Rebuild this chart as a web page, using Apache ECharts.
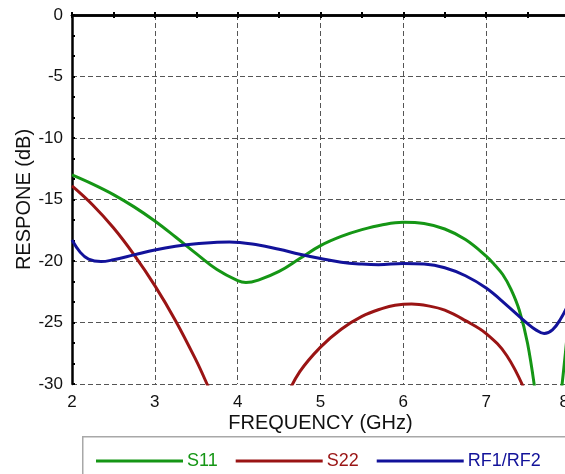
<!DOCTYPE html>
<html>
<head>
<meta charset="utf-8">
<script src="https://cdn.jsdelivr.net/npm/echarts@6/dist/echarts.min.js"></script>
<style>
html,body{margin:0;padding:0;background:#fff;}
#c{width:565px;height:474px;}
</style>
</head>
<body>
<div id="c"></div>
<script>
// Frequency (GHz) and response (dB)
const freqS11 = [2.0,2.25,2.5,2.75,3.0,3.25,3.5,3.75,4.0,4.1,4.25,4.5,4.75,5.0,5.25,5.5,5.75,6.0,6.25,6.5,6.75,7.0,7.1,7.2,7.3,7.4,7.5,7.6,7.7,7.8,7.9,8.0];
const s11     = [-13.0,-13.75,-14.6,-15.6,-16.75,-18.05,-19.4,-20.7,-21.6,-21.75,-21.55,-20.85,-19.8,-18.75,-18.0,-17.45,-17.05,-16.85,-16.95,-17.4,-18.25,-19.6,-20.3,-21.1,-22.3,-24.0,-26.7,-31.0,-36.0,-36.0,-31.0,-24.5];

const freqS22 = [2.0,2.25,2.5,2.75,3.0,3.25,3.5,3.75,4.0,4.25,4.5,4.75,5.0,5.25,5.5,5.75,5.9,6.1,6.3,6.5,6.75,7.0,7.25,7.5,7.75];
const s22     = [-13.9,-15.45,-17.3,-19.5,-22.0,-24.85,-28.1,-31.6,-34.0,-34.0,-32.0,-29.0,-27.0,-25.55,-24.5,-23.85,-23.6,-23.5,-23.65,-24.0,-24.85,-25.9,-27.7,-31.0,-35.0];

const freqRF = [2.0,2.1,2.2,2.35,2.5,2.75,3.0,3.25,3.5,3.9,4.25,4.5,4.75,5.0,5.25,5.5,5.7,6.0,6.25,6.5,6.75,7.0,7.25,7.5,7.6,7.7,7.8,7.9,8.0];
const rf      = [-18.3,-19.3,-19.85,-20.05,-19.9,-19.5,-19.1,-18.8,-18.6,-18.45,-18.7,-19.05,-19.45,-19.8,-20.1,-20.25,-20.3,-20.2,-20.25,-20.55,-21.2,-22.2,-23.6,-25.1,-25.6,-25.9,-25.6,-24.7,-23.4];

const xTicks = [2,3,4,5,6,7,8];
const yTicks = [0,-5,-10,-15,-20,-25,-30];
const seriesNames = ['S11','S22','RF1/RF2'];
const colors = ['#159615','#9a1414','#12129a'];

function pairs(xs, ys){ return xs.map((x,i)=>[x, ys[i]]); }

const chart = echarts.init(document.getElementById('c'));
const font = 'Liberation Sans, Arial, sans-serif';
const gridDash = {type:[5,3], color:'#555', width:1};

chart.setOption({
  animation:false,
  backgroundColor:'#fff',
  grid:{left:72, top:15, width:497, height:369, containLabel:false, outerBoundsMode:'none'},
  xAxis:[{
    type:'value', min:xTicks[0], max:xTicks[xTicks.length-1], interval:1,
    position:'bottom',
    name:'FREQUENCY (GHz)', nameLocation:'middle', nameGap:29, nameMoveOverlap:false,
    nameTextStyle:{fontFamily:font, fontSize:20, color:'#111'},
    axisLine:{lineStyle:{color:'#000', width:2.5}},
    axisTick:{inside:true, length:3, lineStyle:{color:'#000', width:2}},
    minorTick:{show:true, splitNumber:2, length:3, lineStyle:{color:'#000', width:2}},
    axisLabel:{fontFamily:font, fontSize:17, color:'#111', margin:10, showMaxLabel:true, hideOverlap:false, alignMaxLabel:'right'},
    splitLine:{show:true, lineStyle:gridDash}
  },{
    type:'value', min:xTicks[0], max:xTicks[xTicks.length-1], interval:1,
    position:'top',
    axisLine:{lineStyle:{color:'#000', width:2.5}},
    axisTick:{inside:true, length:3, lineStyle:{color:'#000', width:2}},
    minorTick:{show:true, splitNumber:2, length:3, lineStyle:{color:'#000', width:2}},
    axisLabel:{show:false},
    splitLine:{show:false}
  }],
  yAxis:{
    type:'value', min:yTicks[yTicks.length-1], max:yTicks[0], interval:5,
    name:'RESPONE (dB)', nameLocation:'middle', nameGap:38, nameRotate:90, nameMoveOverlap:false,
    nameTextStyle:{fontFamily:font, fontSize:20, color:'#111'},
    axisLine:{show:true, lineStyle:{color:'#000', width:2.5}},
    axisTick:{show:true, inside:true, length:3, lineStyle:{color:'#000', width:2}},
    minorTick:{show:true, splitNumber:3, length:3, lineStyle:{color:'#000', width:2}},
    axisLabel:{fontFamily:font, fontSize:17, color:'#111', margin:9},
    splitLine:{show:true, lineStyle:gridDash}
  },
  legend:{
    left:91, top:447, icon:'rect', itemWidth:87, itemHeight:3, itemGap:18,
    data:seriesNames.map((n,i)=>({name:n, textStyle:{color:colors[i]}})),
    textStyle:{fontFamily:font, fontSize:18, padding:[0,0,0,-1]}
  },
  graphic:[{
    type:'rect', left:82, top:436, silent:true, z:-1,
    shape:{width:520, height:60},
    style:{fill:'#fff', stroke:'#a8a8a8', lineWidth:1.5}
  }],
  series:[
    {name:seriesNames[0], type:'line', data:pairs(freqS11,s11), smooth:0.4, showSymbol:false, clip:true,
     lineStyle:{color:colors[0], width:3}, itemStyle:{color:colors[0]}},
    {name:seriesNames[1], type:'line', data:pairs(freqS22,s22), smooth:0.4, showSymbol:false, clip:true,
     lineStyle:{color:colors[1], width:3}, itemStyle:{color:colors[1]}},
    {name:seriesNames[2], type:'line', data:pairs(freqRF,rf), smooth:0.4, showSymbol:false, clip:true,
     lineStyle:{color:colors[2], width:3}, itemStyle:{color:colors[2]}}
  ]
});
</script>
</body>
</html>
